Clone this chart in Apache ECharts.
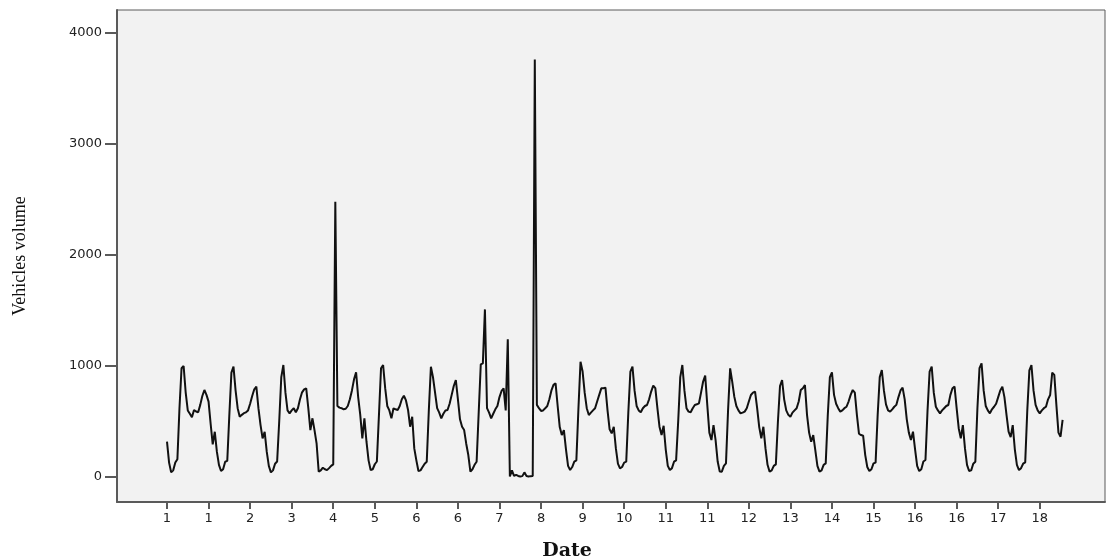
<!DOCTYPE html>
<html>
<head>
<meta charset="utf-8">
<script src="https://cdn.jsdelivr.net/npm/echarts@6/dist/echarts.min.js"></script>
<style>
  html, body { margin: 0; padding: 0; background: #fff; }
  #chart { width: 1108px; height: 559px; }
</style>
</head>
<body>
<div id="chart"></div>
<script>
// hourly vehicle volume, one array per day (hours 0..23)
var day01 = [318, 130, 42, 60, 130, 160, 620, 980, 1000, 760, 600, 570, 538, 604, 590, 583, 650, 730, 784, 740, 679, 480, 294, 408];
var day02 = [228, 110, 54, 70, 138, 145, 560, 940, 994, 780, 620, 543, 560, 575, 583, 600, 660, 730, 790, 814, 620, 470, 348, 408];
var day03 = [228, 100, 42, 60, 120, 140, 500, 900, 1009, 760, 600, 574, 600, 620, 583, 620, 700, 763, 790, 799, 620, 423, 529, 420];
var day04 = [300, 48, 60, 84, 70, 62, 80, 100, 114, 2480, 640, 625, 620, 610, 615, 640, 700, 780, 880, 943, 720, 560, 348, 529];
var day05 = [318, 150, 63, 70, 115, 140, 560, 980, 1009, 800, 640, 600, 529, 619, 610, 604, 640, 700, 733, 690, 604, 453, 543, 258];
var day06 = [150, 54, 60, 90, 120, 138, 600, 994, 900, 760, 620, 580, 529, 570, 600, 604, 660, 740, 820, 874, 700, 520, 453, 423];
var day07 = [300, 198, 48, 70, 110, 138, 580, 1015, 1024, 1510, 620, 580, 529, 570, 610, 640, 720, 775, 799, 600, 1240, 5, 60, 10];
var day08 = [20, 10, 5, 8, 42, 10, 5, 8, 10, 3760, 650, 620, 595, 600, 619, 640, 700, 780, 830, 844, 640, 450, 378, 423];
var day09 = [250, 100, 63, 90, 138, 150, 620, 1039, 950, 760, 620, 558, 580, 600, 619, 680, 740, 799, 800, 805, 600, 430, 393, 453];
var day10 = [260, 120, 78, 90, 130, 138, 580, 950, 994, 780, 640, 600, 583, 620, 640, 649, 700, 770, 823, 800, 620, 453, 378, 462];
var day11 = [250, 100, 63, 80, 138, 150, 500, 900, 1009, 780, 620, 589, 583, 620, 649, 655, 664, 760, 860, 913, 650, 400, 333, 468];
var day12 = [333, 140, 50, 48, 100, 123, 600, 979, 860, 724, 640, 600, 574, 580, 589, 620, 680, 739, 760, 769, 620, 450, 348, 453];
var day13 = [260, 110, 48, 60, 100, 114, 500, 820, 874, 700, 600, 560, 543, 580, 600, 619, 680, 784, 800, 829, 560, 400, 318, 378];
var day14 = [240, 100, 48, 60, 110, 123, 560, 900, 943, 740, 660, 620, 589, 600, 620, 633, 680, 740, 784, 760, 560, 390, 378, 372];
var day15 = [200, 90, 54, 70, 123, 130, 560, 900, 964, 780, 655, 600, 589, 610, 633, 650, 720, 780, 805, 700, 520, 400, 333, 408];
var day16 = [250, 100, 54, 70, 140, 153, 600, 950, 994, 760, 633, 600, 574, 600, 620, 640, 649, 740, 800, 814, 620, 440, 348, 468];
var day17 = [260, 110, 54, 60, 120, 138, 620, 980, 1024, 780, 640, 600, 574, 610, 633, 660, 720, 780, 814, 720, 560, 408, 360, 468];
var day18 = [250, 110, 63, 80, 120, 132, 600, 960, 1009, 780, 649, 600, 574, 600, 620, 633, 700, 739, 940, 920, 650, 400, 363, 514];

var volume = [].concat(day01, day02, day03, day04, day05, day06, day07, day08, day09,
  day10, day11, day12, day13, day14, day15, day16, day17, day18);

// x ticks every 20 hours, labelled with the day number
var xTickPositions = [0, 20, 40, 60, 80, 100, 120, 140, 160, 180, 200, 220, 240, 260, 280, 300, 320, 340, 360, 380, 400, 420];
var xTickLabels = ['1', '1', '2', '3', '4', '5', '6', '6', '7', '8', '9', '10', '11', '11', '12', '13', '14', '15', '16', '16', '17', '18'];
var yTickValues = [0, 1000, 2000, 3000, 4000];

var myChart = echarts.init(document.getElementById('chart'), null, { renderer: 'canvas' });

var axisColor = '#5a5a5a';
var labelFont = { color: '#222', fontFamily: 'DejaVu Sans', fontSize: 13 };

var option = {
  animation: false,
  backgroundColor: '#fff',
  grid: {
    left: 117, top: 10, right: 3, bottom: 57,
    outerBoundsMode: 'none',
    containLabel: false,
    show: true,
    backgroundColor: '#f2f2f2',
    borderColor: axisColor,
    borderWidth: 1
  },
  xAxis: {
    type: 'value',
    min: -24.06,
    max: 451.4,
    name: 'Date',
    nameLocation: 'middle',
    nameGap: 40,
    nameTextStyle: {
      fontFamily: 'DejaVu Serif', fontWeight: 'bold', fontSize: 19, color: '#111',
      padding: [0, 88, 0, 0]
    },
    axisLine: { show: true, onZero: false, lineStyle: { color: axisColor, width: 2 } },
    axisTick: { show: true, length: 7, customValues: xTickPositions, lineStyle: { color: axisColor, width: 2 } },
    axisLabel: Object.assign({
      customValues: xTickPositions,
      margin: 10,
      formatter: function (v) {
        var k = xTickPositions.indexOf(Math.round(v));
        return k >= 0 ? xTickLabels[k] : '';
      }
    }, labelFont),
    splitLine: { show: false }
  },
  yAxis: {
    type: 'value',
    min: -225,
    max: 4207,
    name: 'Vehicles volume',
    nameLocation: 'middle',
    nameGap: 88,
    nameRotate: 90,
    nameTextStyle: { fontFamily: 'Liberation Serif', fontSize: 18, color: '#111' },
    axisLine: { show: true, onZero: false, lineStyle: { color: axisColor, width: 2 } },
    axisTick: { show: true, length: 12, customValues: yTickValues, lineStyle: { color: axisColor, width: 2 } },
    axisLabel: Object.assign({
      customValues: yTickValues,
      margin: 15,
      formatter: function (v) { return String(v); }
    }, labelFont),
    splitLine: { show: false }
  },
  series: [{
    type: 'line',
    data: volume.map(function (v, i) { return [i, v]; }),
    showSymbol: false,
    lineStyle: { color: '#111', width: 2 }
  }]
};

myChart.setOption(option);
</script>
</body>
</html>
